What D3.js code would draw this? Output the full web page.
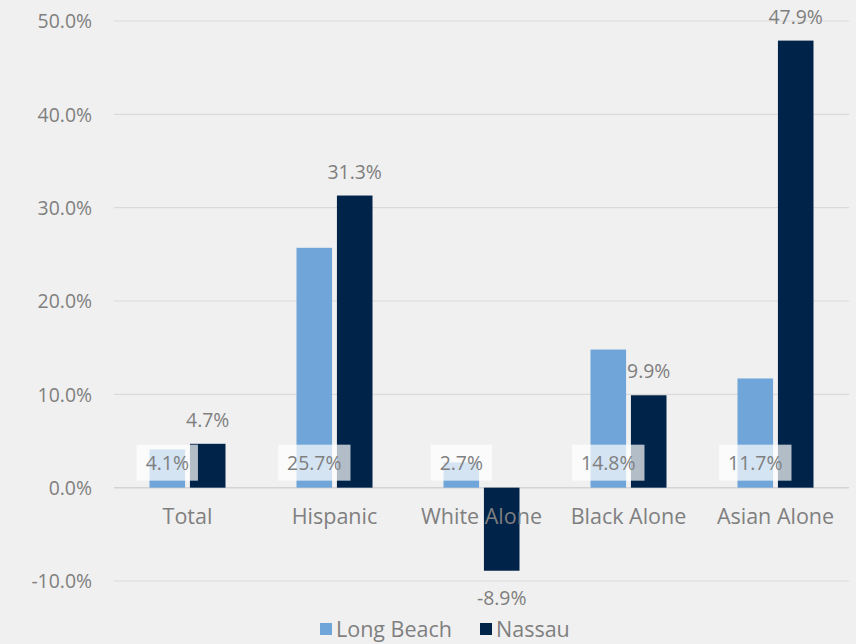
<!DOCTYPE html>
<html><head><meta charset="utf-8">
<script src="https://cdn.jsdelivr.net/npm/d3@7"></script>
<style>html,body{margin:0;padding:0;background:#f0f0f0;}</style>
</head><body>
<svg id="c" width="856" height="644"></svg>
<script>
const categories = ["Total","Hispanic","White Alone","Black Alone","Asian Alone"];
const longBeach = [4.1, 25.7, 2.7, 14.8, 11.7];
const nassau = [4.7, 31.3, -8.9, 9.9, 47.9];
const seriesNames = ["Long Beach","Nassau"];
const yTicks = [-10,0,10,20,30,40,50];

const colors = {"Long Beach":"#6fa5d8","Nassau":"#002349"};
const textColor = "#7f7f7f";
const font = "Open Sans, sans-serif";
const numSize = 19.4, wordSize = 21.5;
const svg = d3.select("#c");
const W=856,H=644;
svg.append("rect").attr("width",W).attr("height",H).attr("fill","#f0f0f0");

const x0 = d3.scaleBand().domain(categories).range([114,849]);
const x1 = d3.scaleBand().domain(seriesNames).range([x0.bandwidth()/2-38, x0.bandwidth()/2+38]).paddingInner(0.12);
const y = d3.scaleLinear().domain([-10,50]).range([581,21]);
const fmt = v => v.toFixed(1)+"%";

// gridlines
svg.append("g").selectAll("line").data(yTicks).join("line")
  .attr("x1",114).attr("x2",849).attr("y1",d=>y(d)).attr("y2",d=>y(d))
  .attr("stroke",d=>d===0?"#d4d4d4":"#dadada").attr("stroke-width",d=>d===0?1.5:1.2);

// y axis labels
const yAxis = d3.axisLeft(y).tickValues(yTicks).tickFormat(fmt).tickSize(0).tickPadding(0);
const ga = svg.append("g").attr("transform","translate(92,0)").call(yAxis);
ga.select(".domain").remove();
ga.selectAll("text").attr("font-family",font).attr("font-size",numSize).attr("fill",textColor).attr("dy","0.36em");

const data = categories.map((c,i)=>({cat:c, vals:[{s:"Long Beach",v:longBeach[i]},{s:"Nassau",v:nassau[i]}]}));

const groups = svg.append("g").selectAll("g").data(data).join("g")
  .attr("transform",d=>`translate(${x0(d.cat)},0)`);

groups.selectAll("rect.bar").data(d=>d.vals).join("rect").attr("class","bar")
  .attr("x",d=>x1(d.s)).attr("width",x1.bandwidth())
  .attr("y",d=>y(Math.max(0,d.v))).attr("height",d=>Math.abs(y(d.v)-y(0)))
  .attr("fill",d=>colors[d.s]);

// category labels
svg.append("g").selectAll("text").data(categories).join("text")
  .attr("x",d=>x0(d)+x0.bandwidth()/2).attr("y",y(0)+36)
  .attr("text-anchor","middle").attr("font-family",font).attr("font-size",wordSize)
  .attr("fill",textColor).text(d=>d);

// Nassau labels (outside end)
groups.each(function(d){
  const g = d3.select(this);
  const n = d.vals[1];
  const cx = x1("Nassau")+x1.bandwidth()/2;
  const ty = n.v>=0 ? y(n.v)-24 : y(n.v)+27;
  g.append("text").attr("x",cx).attr("y",ty).attr("dy","0.36em")
    .attr("text-anchor","middle").attr("font-family",font).attr("font-size",numSize)
    .attr("fill",textColor).text(fmt(n.v));
});

// Long Beach labels (inside base, with white box)
groups.each(function(d){
  const g = d3.select(this);
  const l = d.vals[0];
  const cx = x1("Long Beach")+x1.bandwidth()/2;
  const t = g.append("text").attr("x",cx).attr("y",y(0)-25).attr("dy","0.36em")
    .attr("text-anchor","middle").attr("font-family",font).attr("font-size",numSize)
    .attr("fill",textColor).text(fmt(l.v));
  const bb = t.node().getBBox();
  g.insert("rect","text").attr("x",bb.x-9).attr("width",bb.width+18)
    .attr("y",y(0)-43).attr("height",36).attr("fill","#ffffff").attr("fill-opacity",0.7);
});

// legend
const leg = svg.append("g");
const legItems = [{s:"Long Beach",x:320},{s:"Nassau",x:480}];
legItems.forEach(it=>{
  leg.append("rect").attr("x",it.x).attr("y",623).attr("width",12).attr("height",12).attr("fill",colors[it.s]);
  leg.append("text").attr("x",it.x+16).attr("y",629).attr("dy","0.36em")
    .attr("font-family",font).attr("font-size",wordSize).attr("fill",textColor).text(it.s);
});
</script>
</body></html>
